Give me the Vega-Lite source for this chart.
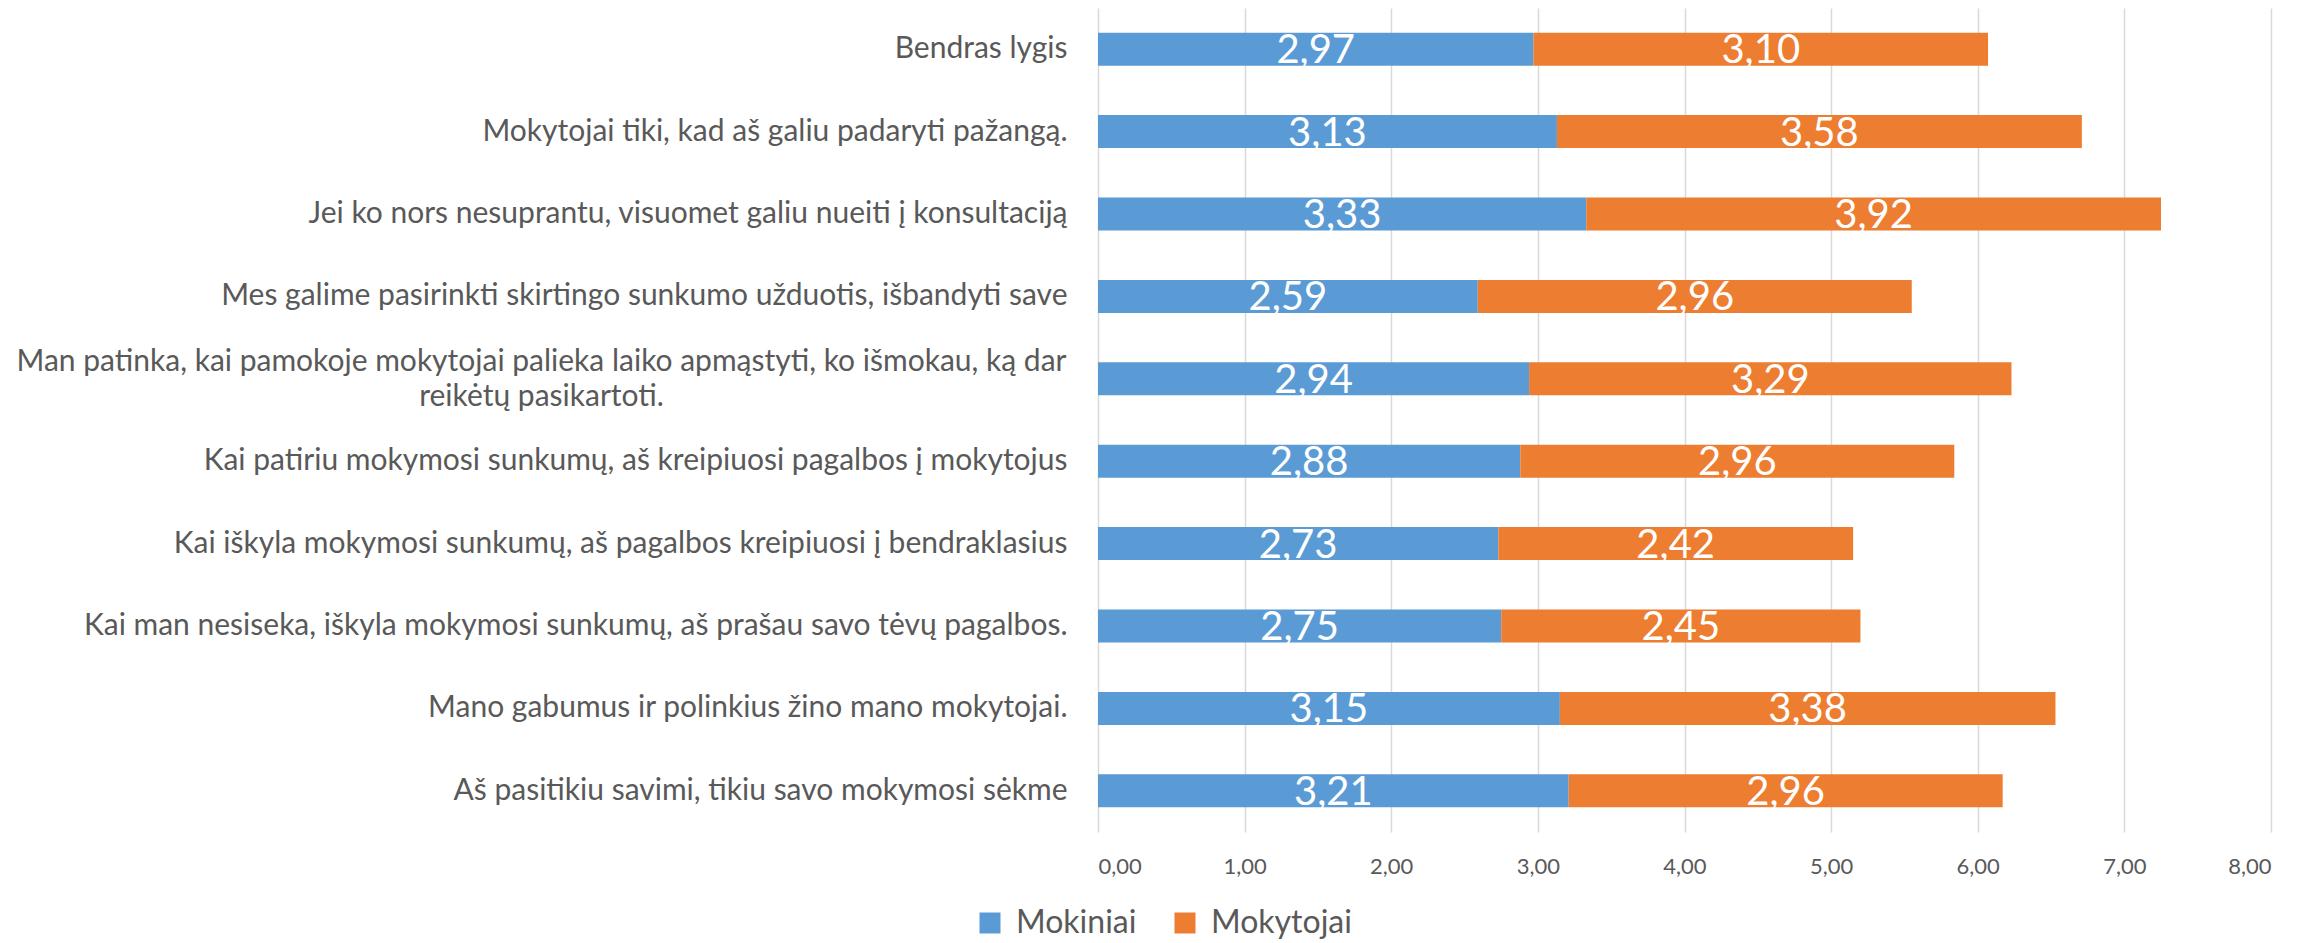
{
  "$schema": "https://vega.github.io/schema/vega-lite/v6.json",
  "autosize": {"type": "none"},
  "padding": {"left": 1098, "top": 8, "right": 47, "bottom": 111},
  "width": 1173,
  "height": 824,
  "background": "white",
  "config": {
    "locale": {"number": {"decimal": ",", "thousands": " ", "grouping": [3], "currency": ["", " €"]}},
    "view": {"stroke": null},
    "font": "Lato, 'DejaVu Sans Condensed', sans-serif"
  },
  "data": {
    "values": [
      {"q": "Bendras lygis", "s": "Mokiniai", "o": 1, "v": 2.97},
      {"q": "Bendras lygis", "s": "Mokytojai", "o": 2, "v": 3.10},
      {"q": "Mokytojai tiki, kad aš galiu padaryti pažangą.", "s": "Mokiniai", "o": 1, "v": 3.13},
      {"q": "Mokytojai tiki, kad aš galiu padaryti pažangą.", "s": "Mokytojai", "o": 2, "v": 3.58},
      {"q": "Jei ko nors nesuprantu, visuomet galiu nueiti į konsultaciją", "s": "Mokiniai", "o": 1, "v": 3.33},
      {"q": "Jei ko nors nesuprantu, visuomet galiu nueiti į konsultaciją", "s": "Mokytojai", "o": 2, "v": 3.92},
      {"q": "Mes galime pasirinkti skirtingo sunkumo užduotis, išbandyti save", "s": "Mokiniai", "o": 1, "v": 2.59},
      {"q": "Mes galime pasirinkti skirtingo sunkumo užduotis, išbandyti save", "s": "Mokytojai", "o": 2, "v": 2.96},
      {"q": "Man patinka, kai pamokoje mokytojai palieka laiko apmąstyti, ko išmokau, ką dar|reikėtų pasikartoti.", "s": "Mokiniai", "o": 1, "v": 2.94},
      {"q": "Man patinka, kai pamokoje mokytojai palieka laiko apmąstyti, ko išmokau, ką dar|reikėtų pasikartoti.", "s": "Mokytojai", "o": 2, "v": 3.29},
      {"q": "Kai patiriu mokymosi sunkumų, aš kreipiuosi pagalbos į mokytojus", "s": "Mokiniai", "o": 1, "v": 2.88},
      {"q": "Kai patiriu mokymosi sunkumų, aš kreipiuosi pagalbos į mokytojus", "s": "Mokytojai", "o": 2, "v": 2.96},
      {"q": "Kai iškyla mokymosi sunkumų, aš pagalbos kreipiuosi į bendraklasius", "s": "Mokiniai", "o": 1, "v": 2.73},
      {"q": "Kai iškyla mokymosi sunkumų, aš pagalbos kreipiuosi į bendraklasius", "s": "Mokytojai", "o": 2, "v": 2.42},
      {"q": "Kai man nesiseka, iškyla mokymosi sunkumų, aš prašau savo tėvų pagalbos.", "s": "Mokiniai", "o": 1, "v": 2.75},
      {"q": "Kai man nesiseka, iškyla mokymosi sunkumų, aš prašau savo tėvų pagalbos.", "s": "Mokytojai", "o": 2, "v": 2.45},
      {"q": "Mano gabumus ir polinkius žino mano mokytojai.", "s": "Mokiniai", "o": 1, "v": 3.15},
      {"q": "Mano gabumus ir polinkius žino mano mokytojai.", "s": "Mokytojai", "o": 2, "v": 3.38},
      {"q": "Aš pasitikiu savimi, tikiu savo mokymosi sėkme", "s": "Mokiniai", "o": 1, "v": 3.21},
      {"q": "Aš pasitikiu savimi, tikiu savo mokymosi sėkme", "s": "Mokytojai", "o": 2, "v": 2.96}
    ]
  },
  "transform": [
    {"stack": "v", "groupby": ["q"], "sort": [{"field": "o"}], "as": ["s0", "s1"]}
  ],
  "encoding": {
    "y": {
      "field": "q", "type": "nominal", "sort": null,
      "scale": {"paddingInner": 0.6, "paddingOuter": 0.3},
      "axis": {
        "title": null, "domain": false, "ticks": false, "grid": false,
        "labelExpr": "split(datum.label, '|')",
        "labelLimit": 1100, "labelFontSize": 30,
        "labelColor": "#595959", "labelLineHeight": 35,
        "labelAlign": {"condition": {"test": "indexof(datum.value, '|') >= 0", "value": "center"}, "value": "right"},
        "labelPadding": {"condition": {"test": "indexof(datum.value, '|') >= 0", "value": 557}, "value": 31},
        "labelOffset": {"condition": {"test": "indexof(datum.value, '|') >= 0", "value": -17}, "value": 0}
      }
    }
  },
  "layer": [
    {
      "mark": {"type": "bar"},
      "encoding": {
        "x": {
          "field": "s0", "type": "quantitative",
          "scale": {"domain": [0, 8], "nice": false},
          "axis": {
            "title": null, "values": [0, 1, 2, 3, 4, 5, 6, 7, 8], "format": ".2f",
            "domain": false, "ticks": false, "grid": true, "gridColor": "#D9D9D9", "gridWidth": 1.5,
            "labelFontSize": 22, "labelColor": "#595959", "labelPadding": 41, "labelBaseline": "alphabetic"
          }
        },
        "x2": {"field": "s1"},
        "color": {
          "field": "s", "type": "nominal",
          "scale": {"domain": ["Mokiniai", "Mokytojai"], "range": ["#5B9BD5", "#ED7D31"]},
          "legend": {
            "title": null, "orient": "none", "direction": "horizontal", "padding": 0,
            "legendX": -124, "legendY": 899,
            "symbolType": "square", "symbolSize": 441, "symbolStrokeWidth": 0, "symbolOpacity": 1,
            "labelFontSize": 32, "labelColor": "#595959", "labelOffset": 10, "columnPadding": 32
          }
        }
      }
    },
    {
      "transform": [
        {"fold": ["s0", "s1"], "as": ["edge", "pos"]}
      ],
      "mark": {"type": "text", "color": "white", "fontSize": 40, "baseline": "alphabetic", "dy": 14},
      "encoding": {
        "x": {"field": "pos", "type": "quantitative", "aggregate": "mean", "stack": null},
        "detail": {"field": "s", "type": "nominal"},
        "text": {"field": "v", "type": "quantitative", "format": ".2f"}
      }
    }
  ]
}
